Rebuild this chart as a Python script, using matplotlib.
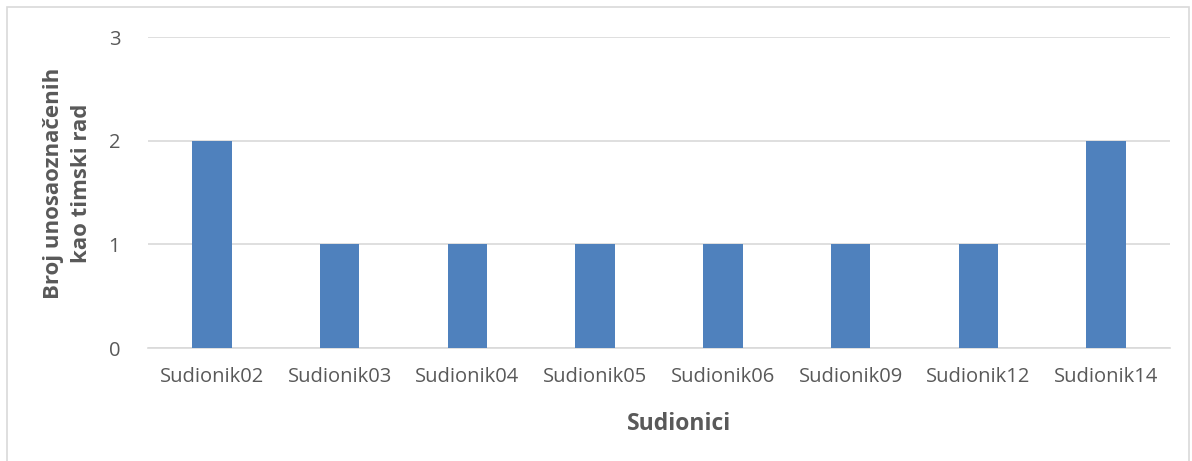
import matplotlib
matplotlib.use("Agg")
import matplotlib.pyplot as plt
from matplotlib.patches import Rectangle
import numpy as np

participants = ["Sudionik02", "Sudionik03", "Sudionik04", "Sudionik05",
                "Sudionik06", "Sudionik09", "Sudionik12", "Sudionik14"]
counts = [2, 1, 1, 1, 1, 1, 1, 2]
yticks = [0, 1, 2, 3]

plt.rcParams['font.family'] = ['Open Sans', 'DejaVu Sans']
text_col = "#595959"

fig = plt.figure(figsize=(11.92, 4.61), dpi=100)
ax = fig.add_axes([0.1242, 0.2451, 0.8573, 0.6746])

x = np.arange(len(participants))
ax.bar(x, counts, width=0.31, color="#4F81BD", zorder=3)

ax.set_xlim(-0.5, len(participants) - 0.5)
ax.set_ylim(0, 3)
ax.set_yticks(yticks)
ax.set_xticks(x)
ax.set_xticklabels(participants)
ax.grid(axis='y', color="#D9D9D9", linewidth=1.2, zorder=0)
for s in ["top", "right", "left"]:
    ax.spines[s].set_visible(False)
ax.spines["bottom"].set_color("#D9D9D9")
ax.spines["bottom"].set_linewidth(1.2)
ax.tick_params(axis='both', length=0, labelsize=14.5, colors=text_col)
ax.tick_params(axis='x', pad=14)
ax.tick_params(axis='y', pad=20)

ax.set_xlabel("Sudionici", fontsize=16.5, fontweight='bold', color=text_col)
ax.xaxis.set_label_coords(0.52, -0.205)
ax.set_ylabel("Broj unosaoznačenih\nkao timski rad", fontsize=16, fontweight='bold',
              color=text_col, linespacing=1.4)
ax.yaxis.set_label_coords(-0.055, 0.53)

# chart border
fig.patches.append(Rectangle((7 / 1192, -0.01), 1182 / 1192, 1 - 7 / 461 + 0.01,
                             transform=fig.transFigure, fill=False,
                             edgecolor="#D9D9D9", linewidth=1.2))

fig.savefig("out.png", dpi=100)
